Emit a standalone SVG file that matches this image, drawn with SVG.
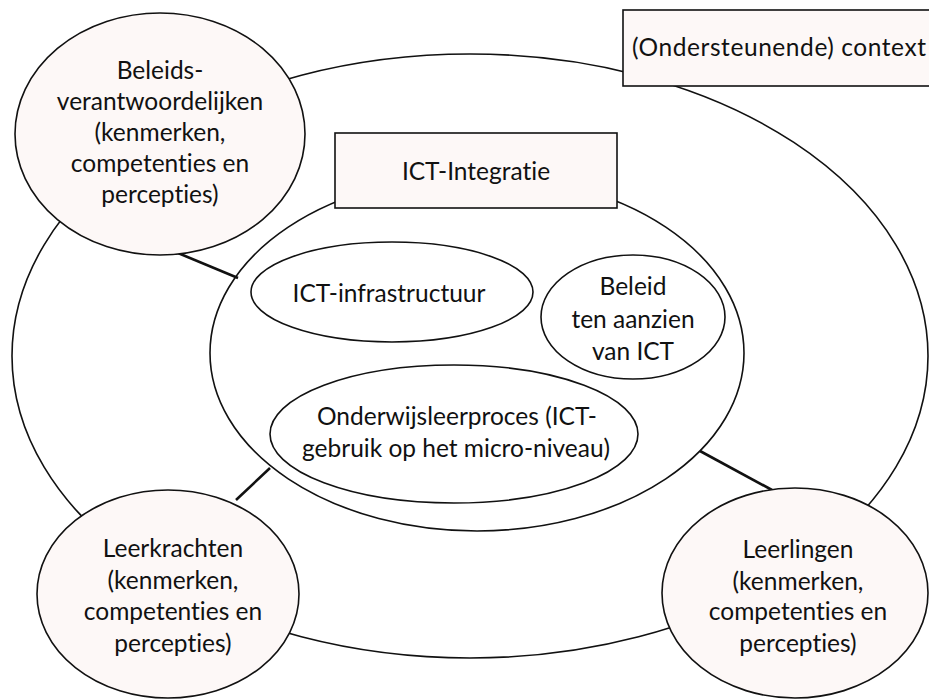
<svg xmlns="http://www.w3.org/2000/svg" width="929" height="700" viewBox="0 0 929 700">
<style>
.node{fill:#fdf8f7;stroke:#111;stroke-width:1.6}
.plain{fill:none;stroke:#111;stroke-width:1.6}
.conn{stroke:#111;stroke-width:2.6;fill:none}
text{font-family:Lato,"Liberation Sans",sans-serif;font-size:24.5px;fill:#111;text-anchor:middle;font-variant-ligatures:none}
</style>
<rect width="929" height="700" fill="#fff"/>
<g id="outer-context"><ellipse class="plain" cx="470" cy="356" rx="458" ry="302"/></g>
<g id="ict-integratie-area"><ellipse class="plain" cx="477" cy="353" rx="267" ry="178"/></g>
<g id="connectors">
<line class="conn" x1="178" y1="253" x2="238" y2="278"/>
<line class="conn" x1="270" y1="468" x2="236" y2="500"/>
<line class="conn" x1="700" y1="451" x2="772" y2="490"/>
</g>
<g id="context-box">
<rect class="node" x="623" y="10" width="320" height="76"/>
<text x="632" y="56" style="text-anchor:start" textLength="294" lengthAdjust="spacing">(Ondersteunende) context</text>
</g>
<g id="ict-integratie">
<rect class="node" x="335" y="133" width="282" height="75"/>
<text x="476" y="180">ICT-Integratie</text>
</g>
<g id="ict-infrastructuur">
<ellipse class="plain" cx="392" cy="292" rx="141" ry="50"/>
<text x="389" y="302">ICT-infrastructuur</text>
</g>
<g id="beleid-ict">
<ellipse class="plain" cx="633" cy="317" rx="92" ry="62"/>
<text x="633" y="295">Beleid</text>
<text x="633" y="328">ten aanzien</text>
<text x="633" y="360">van ICT</text>
</g>
<g id="onderwijsleerproces">
<ellipse class="plain" cx="454" cy="434" rx="184" ry="69"/>
<text x="457" y="425">Onderwijsleerproces (ICT-</text>
<text x="456" y="457">gebruik op het micro-niveau)</text>
</g>
<g id="beleidsverantwoordelijken">
<ellipse class="node" cx="160" cy="134" rx="145" ry="121"/>
<text x="160" y="79">Beleids-</text>
<text x="160" y="110">verantwoordelijken</text>
<text x="160" y="141">(kenmerken,</text>
<text x="160" y="172">competenties en</text>
<text x="160" y="203">percepties)</text>
</g>
<g id="leerkrachten">
<ellipse class="node" cx="168" cy="594" rx="131" ry="104"/>
<text x="173" y="557">Leerkrachten</text>
<text x="173" y="589">(kenmerken,</text>
<text x="173" y="620">competenties en</text>
<text x="173" y="652">percepties)</text>
</g>
<g id="leerlingen">
<ellipse class="node" cx="795" cy="593" rx="133" ry="105"/>
<text x="798" y="558">Leerlingen</text>
<text x="798" y="590">(kenmerken,</text>
<text x="798" y="620">competenties en</text>
<text x="798" y="652">percepties)</text>
</g>
</svg>
